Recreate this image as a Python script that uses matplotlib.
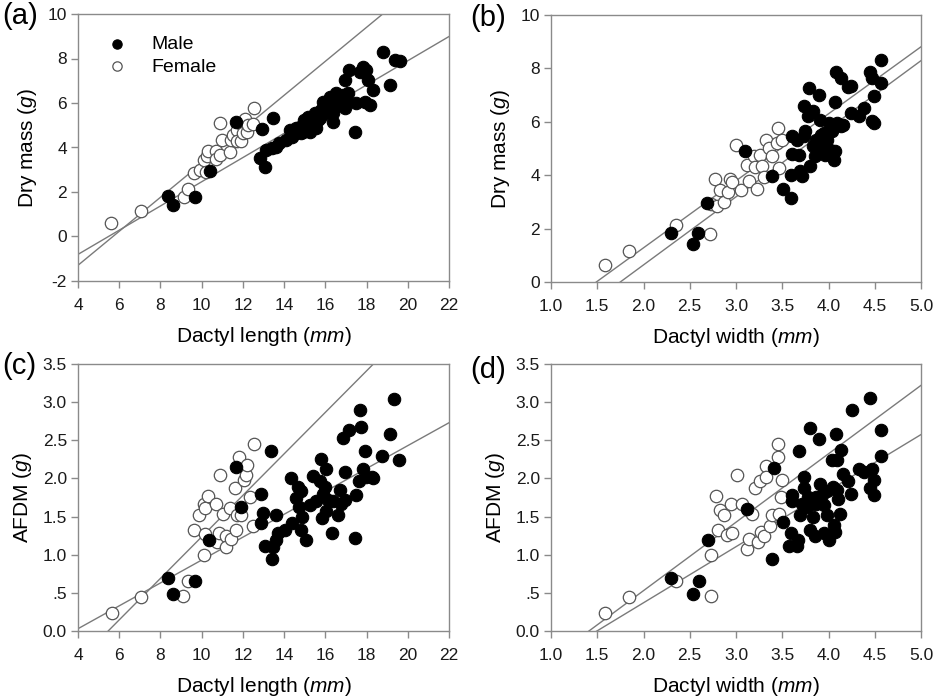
import numpy as np
import matplotlib
matplotlib.use("Agg")
import matplotlib.pyplot as plt

plt.rcParams['font.family'] = ['Liberation Sans', 'DejaVu Sans']
plt.rcParams['mathtext.fontset'] = 'custom'
plt.rcParams['mathtext.rm'] = 'Liberation Sans'
plt.rcParams['mathtext.it'] = 'Liberation Sans:italic'
plt.rcParams['axes.unicode_minus'] = False

# ---- panel (a): dactyl length vs dry mass ----
a_female_x = [5.6, 7.07, 9.13, 9.36, 9.63, 9.9, 10.12, 10.26, 10.3, 10.71, 10.71, 10.88, 10.91,
              11.0, 11.36, 11.4, 11.5, 11.7, 11.72, 11.85, 11.9, 12.0, 12.1, 12.2, 12.25, 12.5,
              12.56, 10.2]
a_female_y = [0.62, 1.13, 1.79, 2.12, 2.85, 2.99, 3.44, 3.62, 3.86, 3.86, 3.5, 3.66, 5.1,
              4.34, 3.8, 4.34, 4.55, 4.8, 4.3, 5.12, 4.3, 4.67, 5.3, 4.7, 5.0, 5.05,
              5.76, 2.9]
a_male_x = [8.38, 8.63, 9.7, 10.39, 11.69, 12.92, 12.85, 13.08, 13.14, 13.47, 13.39, 13.63,
            13.76, 14.11, 14.3, 14.43, 14.68, 14.76, 14.84, 14.95, 15.08, 15.17, 15.33, 15.49,
            15.57, 15.65, 15.81, 15.89, 15.97, 16.13, 16.21, 16.3, 16.38, 16.38, 16.54, 16.7,
            16.86, 16.94, 16.94, 17.1, 17.16, 17.43, 17.51, 17.67, 17.83, 17.99, 17.91, 18.07,
            18.16, 18.32, 18.8, 19.16, 19.37, 19.61, 14.36, 14.6, 14.92, 15.24, 15.4, 15.73,
            16.13, 16.46, 16.62, 17.02, 16.38]
a_male_y = [1.84, 1.4, 1.79, 2.96, 5.16, 4.82, 3.51, 3.14, 3.89, 5.34, 3.96, 4.04,
            4.19, 4.34, 4.79, 4.56, 4.71, 4.94, 4.64, 5.24, 4.94, 5.39, 5.09, 5.54,
            4.87, 5.24, 5.69, 6.06, 5.54, 5.99, 6.28, 5.91, 5.57, 5.16, 6.43, 6.13,
            6.36, 7.03, 5.76, 6.43, 7.48, 4.71, 5.99, 7.41, 7.63, 7.48, 6.06, 7.03,
            5.91, 6.58, 8.31, 6.81, 7.93, 7.9, 4.49, 4.86, 4.71, 4.71, 5.16, 5.31,
            5.69, 5.84, 5.99, 6.13, 6.13]
a_lines = [(0.764, -4.35), (0.544, -2.98)]  # (slope, intercept)

# ---- panel (b): dactyl width vs dry mass ----
b_female_x = [1.58, 1.84, 2.35, 2.72, 2.73, 2.79, 2.77, 2.83, 2.87, 2.91, 2.94, 2.96, 3.0,
              3.05, 3.12, 3.14, 3.19, 3.21, 3.23, 3.26, 3.28, 3.3, 3.32, 3.36, 3.39, 3.44,
              3.45, 3.46, 3.5]
b_female_y = [0.64, 1.16, 2.12, 1.81, 2.94, 2.86, 3.86, 3.46, 3.0, 3.36, 3.87, 3.74, 5.12,
              3.44, 4.4, 3.8, 4.71, 4.31, 3.5, 4.77, 4.33, 3.94, 5.33, 5.02, 4.71, 5.21,
              5.77, 4.27, 5.33]
b_male_x = [2.3, 2.54, 2.59, 2.69, 3.1, 3.39, 3.51, 3.59, 3.59, 3.6, 3.61, 3.66, 3.68, 3.69,
            3.71, 3.73, 3.74, 3.75, 3.78, 3.79, 3.8, 3.83, 3.83, 3.85, 3.89, 3.9, 3.91, 3.92,
            3.95, 3.96, 4.0, 4.02, 4.04, 4.06, 4.07, 4.07, 4.08, 4.09, 4.13, 4.14, 4.16, 4.21,
            4.24, 4.24, 4.33, 4.38, 4.45, 4.47, 4.47, 4.49, 4.49, 4.57, 4.57, 3.98, 3.86, 3.95]
b_male_y = [1.83, 1.43, 1.82, 2.96, 4.89, 3.96, 3.5, 3.15, 4.02, 5.45, 4.81, 5.33, 4.77, 4.15,
            3.96, 5.45, 6.6, 5.64, 6.2, 7.26, 4.33, 6.39, 5.08, 4.71, 4.89, 6.99, 6.08, 5.52,
            5.08, 4.77, 5.95, 4.96, 5.64, 4.58, 4.89, 6.76, 7.88, 5.95, 5.83, 7.63, 5.89, 7.3,
            6.33, 7.35, 6.2, 6.51, 7.88, 7.63, 6.02, 6.97, 5.95, 8.32, 7.47, 5.33, 5.33, 5.58]
b_lines = [(2.51, -3.74), (2.55, -4.46)]

# ---- panel (c): dactyl length vs AFDM ----
c_female_x = [5.63, 7.07, 9.1, 9.36, 9.63, 9.87, 10.12, 10.12, 10.18, 10.18, 10.31, 10.68,
              10.72, 10.84, 10.89, 11.04, 11.17, 11.2, 11.36, 11.4, 11.6, 11.69, 11.72, 11.82,
              11.93, 12.06, 12.17, 12.2, 12.33, 12.5, 12.54]
c_female_y = [0.24, 0.44, 0.46, 0.66, 1.32, 1.52, 1.0, 1.67, 1.61, 1.27, 1.77, 1.67,
              1.17, 1.28, 2.04, 1.54, 1.24, 1.1, 1.61, 1.2, 1.87, 1.32, 1.52, 2.28,
              1.52, 1.98, 2.04, 2.18, 1.76, 1.37, 2.45]
c_male_x = [8.39, 8.61, 9.7, 10.36, 11.67, 11.9, 12.88, 12.87, 12.98, 13.06, 13.35, 13.39,
            13.47, 13.6, 13.63, 13.71, 14.04, 14.31, 14.36, 14.6, 14.68, 14.71, 14.84, 14.84,
            14.89, 15.05, 15.24, 15.41, 15.54, 15.73, 15.81, 15.86, 15.89, 15.97, 16.02, 16.05,
            16.13, 16.3, 16.38, 16.62, 16.7, 16.75, 16.86, 16.94, 16.94, 17.16, 17.43, 17.51,
            17.64, 17.67, 17.72, 17.83, 17.91, 17.99, 18.24, 18.77, 19.13, 19.32, 19.58, 18.32]
c_male_y = [0.7, 0.49, 0.65, 1.19, 2.15, 1.62, 1.8, 1.42, 1.55, 1.12, 2.36, 0.95,
            1.1, 1.52, 1.19, 1.29, 1.32, 2.0, 1.42, 1.74, 1.89, 1.63, 1.32, 1.83,
            1.5, 1.19, 1.65, 2.03, 1.7, 1.96, 2.25, 1.48, 1.8, 1.89, 2.12, 1.57,
            1.72, 1.28, 1.7, 1.52, 1.85, 1.67, 2.53, 2.08, 1.72, 2.64, 1.22, 1.78,
            1.97, 2.9, 2.67, 2.13, 2.36, 2.02, 2.02, 2.3, 2.58, 3.04, 2.24, 2.0]
c_lines = [(0.272, -1.486), (0.15, -0.57)]

# ---- panel (d): dactyl width vs AFDM ----
d_female_x = [1.58, 1.84, 2.35, 2.73, 2.73, 2.78, 2.8, 2.83, 2.87, 2.9, 2.95, 2.96, 3.01,
              3.06, 3.12, 3.13, 3.14, 3.17, 3.2, 3.24, 3.26, 3.27, 3.3, 3.32, 3.32, 3.37,
              3.39, 3.45, 3.45, 3.47, 3.49, 3.5]
d_female_y = [0.24, 0.44, 0.66, 0.99, 0.46, 1.77, 1.32, 1.59, 1.52, 1.26, 1.66, 1.28, 2.04,
              1.66, 1.08, 1.59, 1.2, 1.53, 1.87, 1.17, 1.96, 1.3, 1.24, 2.16, 2.02, 1.37,
              1.52, 2.45, 2.28, 1.53, 1.76, 1.98]
d_male_x = [2.3, 2.54, 2.6, 2.7, 3.12, 3.39, 3.41, 3.51, 3.57, 3.59, 3.61, 3.61, 3.66, 3.67,
            3.68, 3.69, 3.71, 3.73, 3.74, 3.76, 3.8, 3.8, 3.81, 3.83, 3.85, 3.87, 3.9, 3.91,
            3.93, 3.95, 3.95, 3.98, 3.98, 4.01, 4.04, 4.05, 4.06, 4.07, 4.08, 4.09, 4.09, 4.1,
            4.12, 4.14, 4.16, 4.21, 4.24, 4.25, 4.33, 4.38, 4.45, 4.45, 4.47, 4.49, 4.49, 4.57,
            4.57, 3.87, 3.78]
d_male_y = [0.7, 0.49, 0.65, 1.19, 1.6, 0.95, 2.14, 1.43, 1.11, 1.29, 1.78, 1.7, 1.11, 1.19,
            2.36, 1.52, 1.67, 2.02, 1.87, 1.63, 2.66, 1.33, 1.67, 1.5, 1.24, 1.67, 2.52, 1.93,
            1.78, 1.28, 1.65, 1.83, 1.52, 1.19, 2.24, 1.89, 1.39, 1.3, 2.58, 2.24, 1.85, 1.73,
            1.54, 2.37, 2.06, 1.97, 1.8, 2.9, 2.13, 2.09, 3.05, 1.87, 2.13, 1.98, 1.78, 2.64,
            2.3, 1.76, 1.76]
d_lines = [(0.897, -1.265), (0.735, -1.1)]

len_ticks = [4, 6, 8, 10, 12, 14, 16, 18, 20, 22]
wid_ticks = [1.0, 1.5, 2.0, 2.5, 3.0, 3.5, 4.0, 4.5, 5.0]
wid_labels = ['1.0', '1.5', '2.0', '2.5', '3.0', '3.5', '4.0', '4.5', '5.0']
mass_ticks = [-2, 0, 2, 4, 6, 8, 10]
mass_ticks_b = [0, 2, 4, 6, 8, 10]
afdm_ticks = [0.0, 0.5, 1.0, 1.5, 2.0, 2.5, 3.0, 3.5]
afdm_labels = ['0.0', '.5', '1.0', '1.5', '2.0', '2.5', '3.0', '3.5']

W, H = 936, 697
fig = plt.figure(figsize=(W / 100, H / 100), dpi=100)

def px_axes(l, t, r, b):
    return fig.add_axes([l / W, 1 - b / H, (r - l) / W, (b - t) / H])

gray = '#8a8a8a'

def panel(ax, fx, fy, mx, my, lines, xlim, ylim, xticks, yticks, xlabels, ylabels, xlab, ylab):
    ax.set_xlim(*xlim)
    ax.set_ylim(*ylim)
    xs = np.array(xlim)
    for k, c in lines:
        ax.plot(xs, k * xs + c, color='#7a7a7a', lw=1.0, zorder=1)
    ax.scatter(mx, my, s=80, c='black', edgecolors='black', linewidths=0.8, zorder=3, label='Male')
    ax.scatter(fx, fy, s=80, c='white', edgecolors='#555555', linewidths=0.9, zorder=2, label='Female')
    ax.set_xticks(xticks)
    ax.set_yticks(yticks)
    if xlabels is not None:
        ax.set_xticklabels(xlabels)
    if ylabels is not None:
        ax.set_yticklabels(ylabels)
    for s in ax.spines.values():
        s.set_color(gray)
        s.set_linewidth(1.0)
    ax.tick_params(direction='out', length=5, width=1, color=gray, labelsize=12.5,
                   labelcolor='#1a1a1a', pad=3)
    ax.tick_params(axis='x', pad=7)
    ax.set_xlabel(xlab, fontsize=15, labelpad=9)
    ax.set_ylabel(ylab, fontsize=15, labelpad=6)

ax_a = px_axes(78, 14, 449, 281)
panel(ax_a, a_female_x, a_female_y, a_male_x, a_male_y, a_lines, (4, 22), (-2, 10),
      len_ticks, mass_ticks, None, None, r'Dactyl length ($\it{mm}$)', r'Dry mass ($\it{g}$)')
handles, labels = ax_a.get_legend_handles_labels()
ax_a.legend(handles, labels, loc='upper left', bbox_to_anchor=(0.005, 0.985), frameon=False,
            fontsize=14, handletextpad=0.8, labelspacing=0.25, markerscale=0.75)

ax_b = px_axes(551, 15, 921, 282)
panel(ax_b, b_female_x, b_female_y, b_male_x, b_male_y, b_lines, (1.0, 5.0), (0, 10),
      wid_ticks, mass_ticks_b, wid_labels, None, r'Dactyl width ($\it{mm}$)', r'Dry mass ($\it{g}$)')

ax_c = px_axes(78, 364, 449, 631)
panel(ax_c, c_female_x, c_female_y, c_male_x, c_male_y, c_lines, (4, 22), (0, 3.5),
      len_ticks, afdm_ticks, None, afdm_labels, r'Dactyl length ($\it{mm}$)', r'AFDM ($\it{g}$)')

ax_d = px_axes(551, 364, 921, 631)
panel(ax_d, d_female_x, d_female_y, d_male_x, d_male_y, d_lines, (1.0, 5.0), (0, 3.5),
      wid_ticks, afdm_ticks, wid_labels, afdm_labels, r'Dactyl width ($\it{mm}$)', r'AFDM ($\it{g}$)')

for lab, x, y in [('(a)', 2, 16), ('(b)', 470, 18), ('(c)', 2, 366), ('(d)', 470, 370)]:
    fig.text(x / W, 1 - y / H, lab, fontsize=21, ha='left', va='center')

fig.savefig('out.png', dpi=100)
